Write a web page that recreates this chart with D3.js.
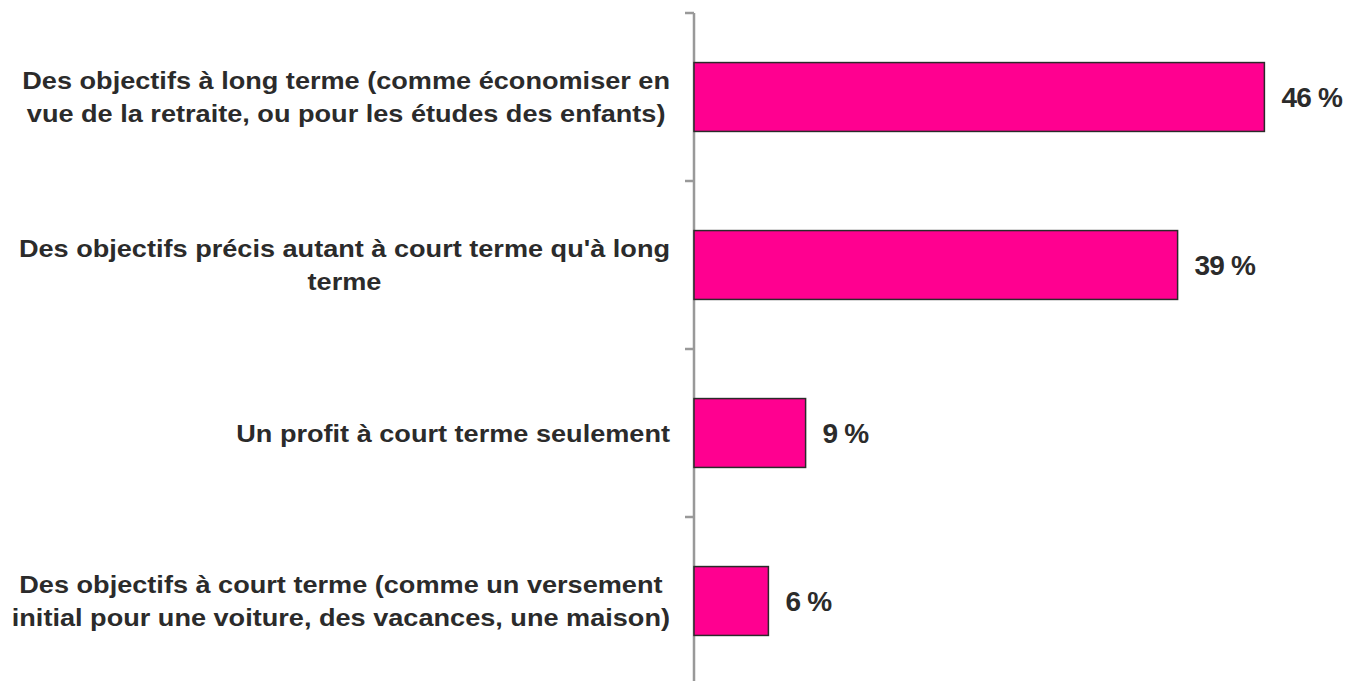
<!DOCTYPE html>
<html>
<head>
<meta charset="utf-8">
<script src="https://cdn.jsdelivr.net/npm/d3@7/dist/d3.min.js"></script>
<style>
  body { margin: 0; background: #fff; }
  svg { display: block; }
</style>
</head>
<body>
<div id="chart"></div>
<script>
const categories = [
  ["Des objectifs à long terme (comme économiser en", "vue de la retraite, ou pour les études des enfants)"],
  ["Des objectifs précis autant à court terme qu'à long", "terme"],
  ["Un profit à court terme seulement"],
  ["Des objectifs à court terme (comme un versement", "initial pour une voiture, des vacances, une maison)"]
];
const values = [46, 39, 9, 6];
const valueLabels = ["46 %", "39 %", "9 %", "6 %"];

const W = 1350, H = 681;
const font = "'Liberation Sans', Arial, sans-serif";
const ink = "#2b2b2b";

const svg = d3.select("#chart").append("svg")
  .attr("width", W)
  .attr("height", H);

const ids = d3.range(categories.length);

const y = d3.scaleBand()
  .domain(ids)
  .range([13, 685])
  .paddingInner(0.59)
  .paddingOuter(0.295);

const x = d3.scaleLinear()
  .domain([0, 50])
  .range([694, 1314]);

// axis with ticks between categories
const tickYs = ids.map(i => y(i) - y.step() * y.paddingInner() / 2);
tickYs.push(y(ids.length - 1) + y.bandwidth() + y.step() * y.paddingInner() / 2);

svg.append("line")
  .attr("x1", x(0)).attr("x2", x(0))
  .attr("y1", tickYs[0]).attr("y2", H)
  .attr("stroke", "#999")
  .attr("stroke-width", 2.5);

svg.selectAll(".tick")
  .data(tickYs)
  .join("line")
  .attr("class", "tick")
  .attr("x1", x(0) - 9).attr("x2", x(0))
  .attr("y1", d => d).attr("y2", d => d)
  .attr("stroke", "#999")
  .attr("stroke-width", 2.5);

// bars
svg.selectAll(".bar")
  .data(values)
  .join("rect")
  .attr("class", "bar")
  .attr("x", x(0))
  .attr("y", (d, i) => y(i))
  .attr("width", d => x(d) - x(0))
  .attr("height", y.bandwidth())
  .attr("fill", "#ff0090")
  .attr("stroke", "#2a2a2a")
  .attr("stroke-width", 1.5);

// value labels
svg.selectAll(".val")
  .data(values)
  .join("text")
  .attr("class", "val")
  .attr("x", d => x(d) + 17)
  .attr("y", (d, i) => y(i) + y.bandwidth() / 2)
  .attr("dy", "0.36em")
  .attr("font-family", font)
  .attr("font-weight", "bold")
  .attr("font-size", 28)
  .attr("letter-spacing", -0.8)
  .attr("fill", ink)
  .text((d, i) => valueLabels[i]);

// category labels (wide, slightly stretched type)
const lineH = 33;
const rightEdge = 670;
const stretch = 1.13;
categories.forEach((lines, i) => {
  const cy = y(i) + y.bandwidth() / 2;
  const g = svg.append("g")
    .attr("transform", `translate(${rightEdge},0) scale(${stretch},1)`);
  const texts = g.selectAll("text")
    .data(lines)
    .join("text")
    .attr("y", (d, j) => cy + (j - (lines.length - 1) / 2) * lineH)
    .attr("dy", "0.36em")
    .attr("font-family", font)
    .attr("font-weight", "bold")
    .attr("font-size", 24)
    .attr("text-anchor", "middle")
    .attr("fill", ink)
    .text(d => d);
  const wMax = d3.max(texts.nodes(), n => n.getComputedTextLength());
  texts.attr("x", -wMax / 2);
});
</script>
</body>
</html>
